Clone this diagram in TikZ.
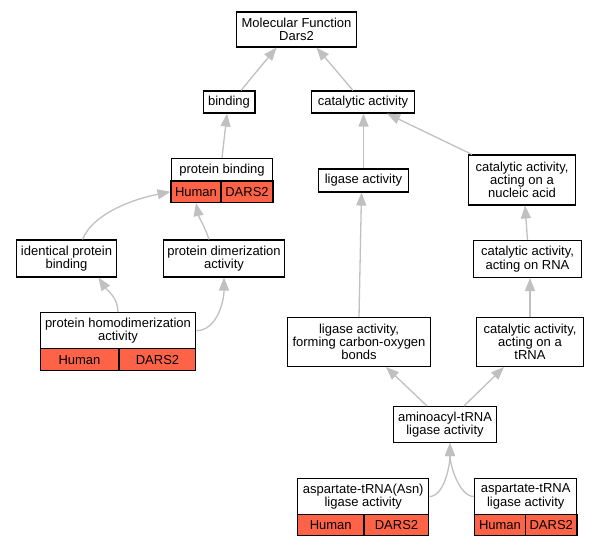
\documentclass[tikz,border=0pt]{standalone}
\usepackage{fontspec}
\setmainfont{Liberation Sans}
\usetikzlibrary{arrows.meta}
\definecolor{tomatoc}{HTML}{FF6347}
\definecolor{edgegray}{HTML}{C0C0C0}
\tikzset{
  box/.style={draw=black, line width=1.2bp, fill=white, inner sep=0pt, align=center,
    font=\fontsize{13bp}{13.3bp}\selectfont},
  cell/.style={box, fill=tomatoc},
  edge/.style={draw=edgegray, line width=1.3bp, -{Triangle[length=13bp,width=10bp]}},
}
\begin{document}
\begin{tikzpicture}[x=1bp,y=-1bp]
\useasboundingbox (0,0) rectangle (599,547);
% nodes
\node[box, minimum width=120, minimum height=35] (mf) at (296.5,29.5) {Molecular Function\\Dars2};
\node[box, minimum width=52, minimum height=22] (binding) at (229,102) {binding};
\node[box, minimum width=104, minimum height=22] (cat) at (363,102) {catalytic activity};
\node[box, minimum width=102, minimum height=22.5] (pb) at (222,169.75) {protein binding};
\node[cell, minimum width=50, minimum height=21.5] (pbh) at (196,191.75) {Human};
\node[cell, minimum width=52, minimum height=21.5] (pbd) at (247,191.75) {DARS2};
\node[box, minimum width=91, minimum height=23] (lig) at (363.5,180.5) {ligase activity};
\node[box, minimum width=108, minimum height=50] (nuc) at (522,180) {catalytic activity,\\acting on a\\nucleic acid};
\node[box, minimum width=101, minimum height=37] (ipb) at (66.5,258.5) {identical protein\\binding};
\node[box, minimum width=122, minimum height=37] (pda) at (224,258.5) {protein dimerization\\activity};
\node[box, minimum width=108, minimum height=37] (rna) at (527.5,259) {catalytic activity,\\acting on RNA};
\node[box, minimum width=156, minimum height=36] (hda) at (118,330.7) {protein homodimerization\\activity};
\node[cell, minimum width=79, minimum height=22] (hdah) at (79.5,359.7) {Human};
\node[cell, minimum width=77, minimum height=22] (hdad) at (157.5,359.7) {DARS2};
\node[box, minimum width=143, minimum height=49] (lfc) at (359,342) {ligase activity,\\forming carbon-oxygen\\bonds};
\node[box, minimum width=108, minimum height=49] (trna) at (530,342) {catalytic activity,\\acting on a\\tRNA};
\node[box, minimum width=104, minimum height=36] (ami) at (445,424.5) {aminoacyl-tRNA\\ligase activity};
\node[box, minimum width=131.5, minimum height=36] (aan) at (363.25,496.5) {aspartate-tRNA(Asn)\\ligase activity};
\node[cell, minimum width=66.5, minimum height=21] (aanh) at (330.75,525) {Human};
\node[cell, minimum width=65, minimum height=21] (aand) at (396.5,525) {DARS2};
\node[box, minimum width=102.5, minimum height=36] (asp) at (525.75,496.5) {aspartate-tRNA\\ligase activity};
\node[cell, minimum width=51, minimum height=21] (asph) at (500,525) {Human};
\node[cell, minimum width=51.5, minimum height=21] (aspd) at (551.25,525) {DARS2};
% edges
\draw[edge] ([xshift=12bp]binding.north) -- ([xshift=-20bp]mf.south);
\draw[edge] ([xshift=-10bp]cat.north) -- ([xshift=20bp]mf.south);
\draw[edge] (pb.north) -- ([xshift=-2bp]binding.south);
\draw[edge] (lig.north) -- (lig.north |- cat.south);
\draw[edge] ([xshift=-50bp]nuc.north) -- ([xshift=24bp]cat.south);
\draw[edge] ([xshift=16bp]ipb.north) .. controls +(10,-25) and +(-40,8) .. (pbh.west);
\draw[edge] ([xshift=-15bp]pda.north) .. controls +(-5,-15) and +(3,15) .. (pbh.south);
\draw[edge] (hda.north) .. controls +(0,-15) and +(8,12) .. ([xshift=32bp]ipb.south);
\draw[edge] (hda.east) .. controls +(20,0) and +(0,25) .. (pda.south);
\draw[edge] (lfc.north) -- ([xshift=-2bp]lig.south);
\draw[edge] (rna.north) -- ([xshift=3bp]nuc.south);
\draw[edge] (trna.north) -- (trna.north |- rna.south);
\draw[edge] ([xshift=-18bp]ami.north) -- ([xshift=27bp]lfc.south);
\draw[edge] ([xshift=19bp]ami.north) -- ([xshift=-26bp]trna.south);
\draw[edge] (aan.east) .. controls +(15,0) and +(0,22) .. ([xshift=5bp]ami.south);
\draw[edge] (asp.west) .. controls +(-15,0) and +(0,22) .. ([xshift=5bp]ami.south);
\end{tikzpicture}
\end{document}
